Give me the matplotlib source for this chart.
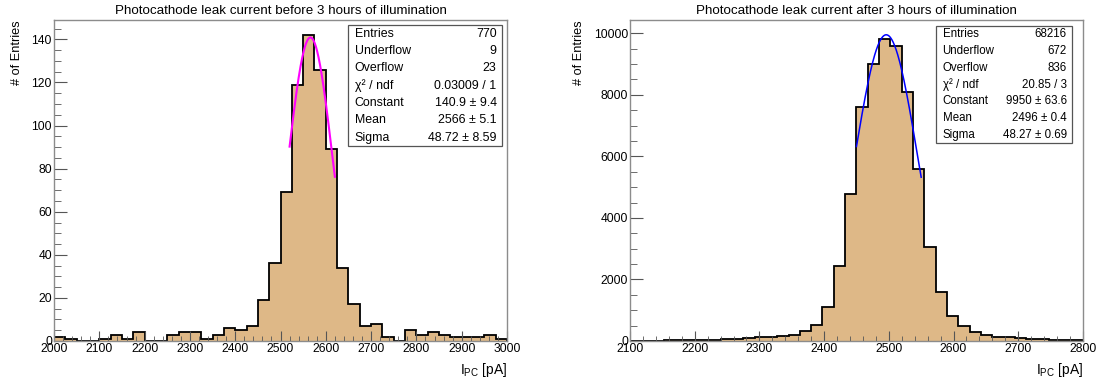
import numpy as np
import matplotlib
matplotlib.use('Agg')
import matplotlib.pyplot as plt
from matplotlib.ticker import MultipleLocator
from matplotlib.patches import Rectangle

plt.rcParams['font.family'] = ['Liberation Sans', 'DejaVu Sans']

# before illumination: 40 bins of 25 pA, 2000-3000
before_counts = [2, 1, 0, 0, 1, 3, 1, 4, 0, 0,
                 3, 4, 4, 1, 3, 6, 5, 7, 19, 36,
                 69, 119, 142, 126, 89, 34, 17, 7, 8, 2,
                 0, 5, 3, 4, 3, 2, 2, 2, 3, 1]
before_range = (2000, 3000)
before_fit = dict(const=140.9, mean=2566, sigma=48.72, lo=2520, hi=2620)
before_stats = [("Entries", "770"), ("Underflow", "9"), ("Overflow", "23"),
                ("χ² / ndf", "0.03009 / 1"), ("Constant", "140.9 ± 9.4"),
                ("Mean", "2566 ± 5.1"), ("Sigma", "48.72 ± 8.59")]

# after illumination: 40 bins of 17.5 pA, 2100-2800
after_counts = [10, 10, 15, 20, 22, 33, 43, 43, 54, 65,
                87, 120, 141, 163, 196, 315, 521, 1118, 2432, 4777,
                7590, 9001, 9805, 9587, 8100, 5592, 3060, 1598, 815, 478,
                293, 185, 130, 120, 98, 76, 54, 43, 33, 20]
after_range = (2100, 2800)
after_fit = dict(const=9950, mean=2496, sigma=48.27, lo=2450, hi=2550)
after_stats = [("Entries", "68216"), ("Underflow", "672"), ("Overflow", "836"),
               ("χ² / ndf", "20.85 / 3"), ("Constant", "9950 ± 63.6"),
               ("Mean", "2496 ± 0.4"), ("Sigma", "48.27 ± 0.69")]

fig = plt.figure(figsize=(10.96, 3.81), dpi=100)


def panel(rect, counts, xr, fit, stats, title, ymax, ymaj, ymin, fitcolor, fitlw, box, boxfs):
    ax = fig.add_axes(rect)
    edges = np.linspace(xr[0], xr[1], len(counts) + 1)
    ax.stairs(counts, edges, fill=True, facecolor='#deb887', edgecolor='none')
    ax.stairs(counts, edges, color='black', linewidth=1.3, baseline=0)
    xf = np.linspace(fit['lo'], fit['hi'], 200)
    ax.plot(xf, fit['const'] * np.exp(-0.5 * ((xf - fit['mean']) / fit['sigma']) ** 2),
            color=fitcolor, lw=fitlw)
    ax.set_xlim(*xr)
    ax.set_ylim(0, ymax)
    ax.xaxis.set_major_locator(MultipleLocator(100))
    ax.xaxis.set_minor_locator(MultipleLocator(20))
    ax.yaxis.set_major_locator(MultipleLocator(ymaj))
    ax.yaxis.set_minor_locator(MultipleLocator(ymin))
    ax.tick_params(axis='both', which='both', direction='in', colors='#555555',
                   labelcolor='black', labelsize=8.7, top=False, right=False)
    ax.tick_params(axis='y', which='major', length=9.5, pad=1.5)
    ax.tick_params(axis='y', which='minor', length=5)
    ax.tick_params(axis='x', which='major', length=7, pad=1.5)
    ax.tick_params(axis='x', which='minor', length=3.5)
    for s in ax.spines.values():
        s.set_color('#8c8c8c')
        s.set_linewidth(1.0)
    ax.set_title(title, fontsize=9.6, pad=4)
    ax.set_ylabel('# of Entries', fontsize=9.2, loc='top', labelpad=6)
    ax.set_xlabel(r'I$_{\mathregular{PC}}$ [pA]', fontsize=10, loc='right', labelpad=4)

    # stats box
    x0, x1, y0, y1 = box
    ax.add_patch(Rectangle((x0, y0), x1 - x0, y1 - y0, transform=ax.transAxes,
                           facecolor='white', edgecolor='#555555', lw=0.9, zorder=5))
    n = len(stats)
    step = (y1 - y0) / n
    for i, (k, v) in enumerate(stats):
        yy = y1 - step * (i + 0.5)
        ax.text(x0 + 0.015, yy, k, transform=ax.transAxes, fontsize=boxfs,
                ha='left', va='center', zorder=6)
        ax.text(x1 - 0.012, yy, v, transform=ax.transAxes, fontsize=boxfs,
                ha='right', va='center', zorder=6)
    return ax


panel([0.0493, 0.105, 0.4133, 0.8425], before_counts, before_range, before_fit, before_stats,
      'Photocathode leak current before 3 hours of illumination', 149, 20, 5,
      '#ff00ff', 1.5, (0.649, 0.989, 0.607, 0.984), 8.9)
panel([0.5748, 0.105, 0.4133, 0.8425], after_counts, after_range, after_fit, after_stats,
      'Photocathode leak current after 3 hours of illumination', 10430, 2000, 500,
      '#0000ff', 1.1, (0.675, 0.976, 0.617, 0.981), 8.3)

fig.savefig('out.png', dpi=100)
